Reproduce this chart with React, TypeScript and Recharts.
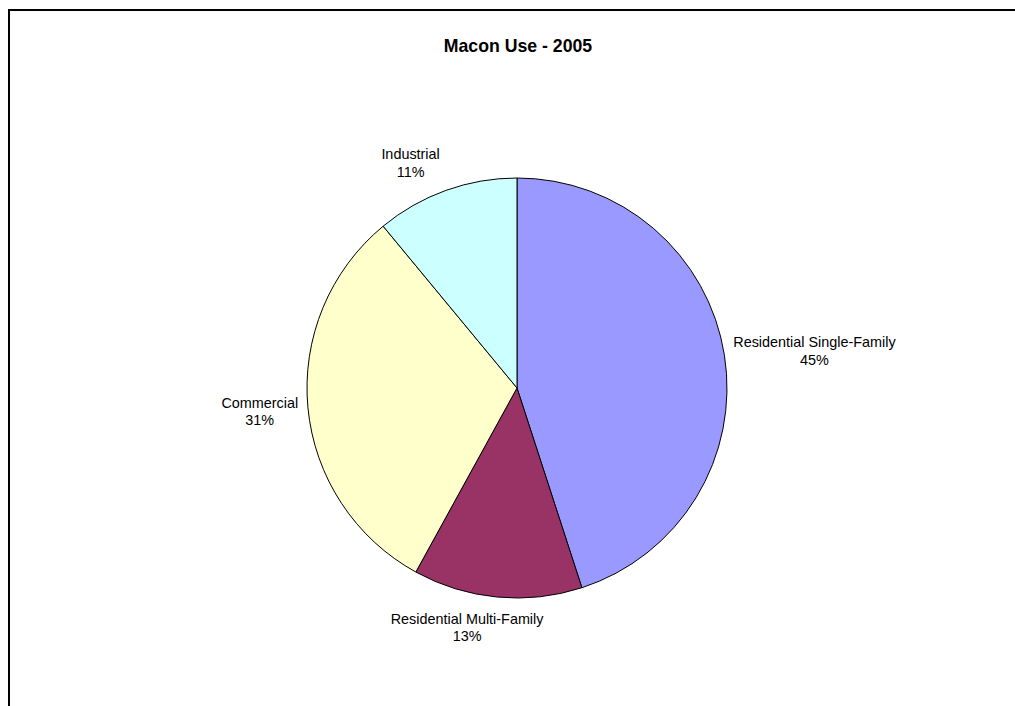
import { Cell, Pie, PieChart } from 'recharts';

const categories = [
  'Residential Single-Family',
  'Residential Multi-Family',
  'Commercial',
  'Industrial',
];
const shares = [45, 13, 31, 11];
const colors = ['#9999FF', '#993366', '#FFFFCC', '#CCFFFF'];
const title = 'Macon Use - 2005';

const FONT = "'Liberation Sans', Arial, sans-serif";
const LABEL_SIZE = 14.4;
const RAD = Math.PI / 180;

let ctx: CanvasRenderingContext2D | null = null;
function textWidth(s: string) {
  if (!ctx) ctx = document.createElement('canvas').getContext('2d');
  if (!ctx) return s.length * 7;
  ctx.font = `${LABEL_SIZE}px ${FONT}`;
  return ctx.measureText(s).width;
}

function renderLabel(props: any) {
  const { cx, cy, midAngle, outerRadius, name, percent } = props;
  const pct = `${Math.round(percent * 100)}%`;
  const c = Math.cos(midAngle * RAD);
  const s = Math.sin(midAngle * RAD);
  const w = Math.max(textWidth(name), textWidth(pct));
  const h = 40;
  // anchor just outside the rim, then shift the label box outward
  const r = outerRadius + 10;
  let x = cx + r * c + (w / 2) * c;
  const y = cy - r * s - (h / 2) * s;
  // labels near the top/bottom sit a bit further off the vertical axis (Excel style)
  if (Math.abs(s) > 0.9) x += Math.sign(c) * 22;
  return (
    <text x={x} y={y - 3} textAnchor="middle" fontFamily={FONT} fontSize={LABEL_SIZE} fill="#000">
      <tspan x={x}>{name}</tspan>
      <tspan x={x} dy={17.5}>{pct}</tspan>
    </text>
  );
}

export default function App() {
  const data = categories.map((name, i) => ({ name, value: shares[i] }));
  return (
    <div
      style={{
        position: 'fixed',
        left: 8,
        top: 9,
        width: 1007,
        height: 697,
        borderTop: '2px solid #000',
        borderLeft: '2px solid #000',
        boxSizing: 'border-box',
        background: '#fff',
        overflow: 'hidden',
      }}
    >
      <div
        style={{
          position: 'absolute',
          left: 358,
          top: 25,
          width: 300,
          textAlign: 'center',
          fontFamily: FONT,
          fontWeight: 'bold',
          fontSize: 17.7,
          lineHeight: '20px',
        }}
      >
        {title}
      </div>
      <PieChart width={1005} height={695} margin={{ top: 0, right: 0, bottom: 0, left: 0 }}>
        <Pie
          data={data}
          dataKey="value"
          nameKey="name"
          cx={507}
          cy={377}
          outerRadius={210}
          startAngle={90}
          endAngle={-270}
          stroke="#000"
          strokeWidth={1}
          label={renderLabel}
          labelLine={false}
          isAnimationActive={false}
        >
          {data.map((d, i) => (
            <Cell key={d.name} fill={colors[i]} />
          ))}
        </Pie>
      </PieChart>
    </div>
  );
}
